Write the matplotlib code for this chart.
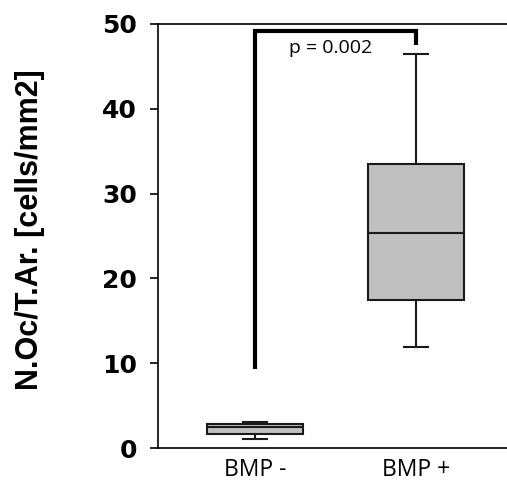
import numpy as np
import matplotlib.pyplot as plt

# datos
grupos = ['BMP -', 'BMP +']
q1 = [1.65, 17.45]
mediana = [2.5, 25.3]
q3 = [2.85, 33.5]
bigote_bajo = [1.05, 11.9]
bigote_alto = [3.05, 46.4]
p_texto = 'p = 0.002'
barra_izq = 9.3
barra_arriba = 49.1
barra_der = 47.5

fig = plt.figure(figsize=(5.07, 4.82), dpi=100)
ax = fig.add_axes([0.3116, 0.0705, 0.6884, 0.880])

stats = []
for i in range(len(grupos)):
    stats.append(dict(med=mediana[i], q1=q1[i], q3=q3[i],
                      whislo=bigote_bajo[i], whishi=bigote_alto[i],
                      fliers=[], label=grupos[i]))

ax.bxp(stats, positions=[1, 2], widths=0.6, patch_artist=True,
       showfliers=False, capwidths=0.145,
       boxprops=dict(facecolor='#c0c0c0', edgecolor='#1a1a1a', linewidth=1.5),
       medianprops=dict(color='#1a1a1a', linewidth=1.5),
       whiskerprops=dict(color='#1a1a1a', linewidth=1.5),
       capprops=dict(color='#1a1a1a', linewidth=1.5))

# barra de significancia
ax.plot([1, 1, 2, 2], [barra_izq, barra_arriba, barra_arriba, barra_der],
        color='black', linewidth=3, solid_capstyle='butt', solid_joinstyle='miter',
        clip_on=False)
ax.text(1.47, 47.2, p_texto, ha='center', va='center', fontsize=14,
        family='Open Sans')

ax.set_xlim(0.398, 2.565)
ax.set_ylim(0, 50)
ax.set_yticks([0, 10, 20, 30, 40, 50])
ax.set_xticks([1, 2])
ax.set_xticklabels(grupos, family='Open Sans', fontsize=16.5)
for t in ax.get_yticklabels():
    t.set_fontweight('bold')
    t.set_family('DejaVu Sans')
    t.set_fontsize(18)
ax.tick_params(axis='x', length=0, pad=7)
ax.tick_params(axis='y', length=6, width=1.2, pad=9)
ax.spines['right'].set_visible(False)
for s in ['left', 'top', 'bottom']:
    ax.spines[s].set_linewidth(1.2)
ax.set_ylabel('N.Oc/T.Ar. [cells/mm2]', fontsize=22, fontweight='bold',
              family='Liberation Sans', va='center')
ax.yaxis.set_label_coords(-0.367, 0.514)

fig.savefig('out.png', dpi=100)
